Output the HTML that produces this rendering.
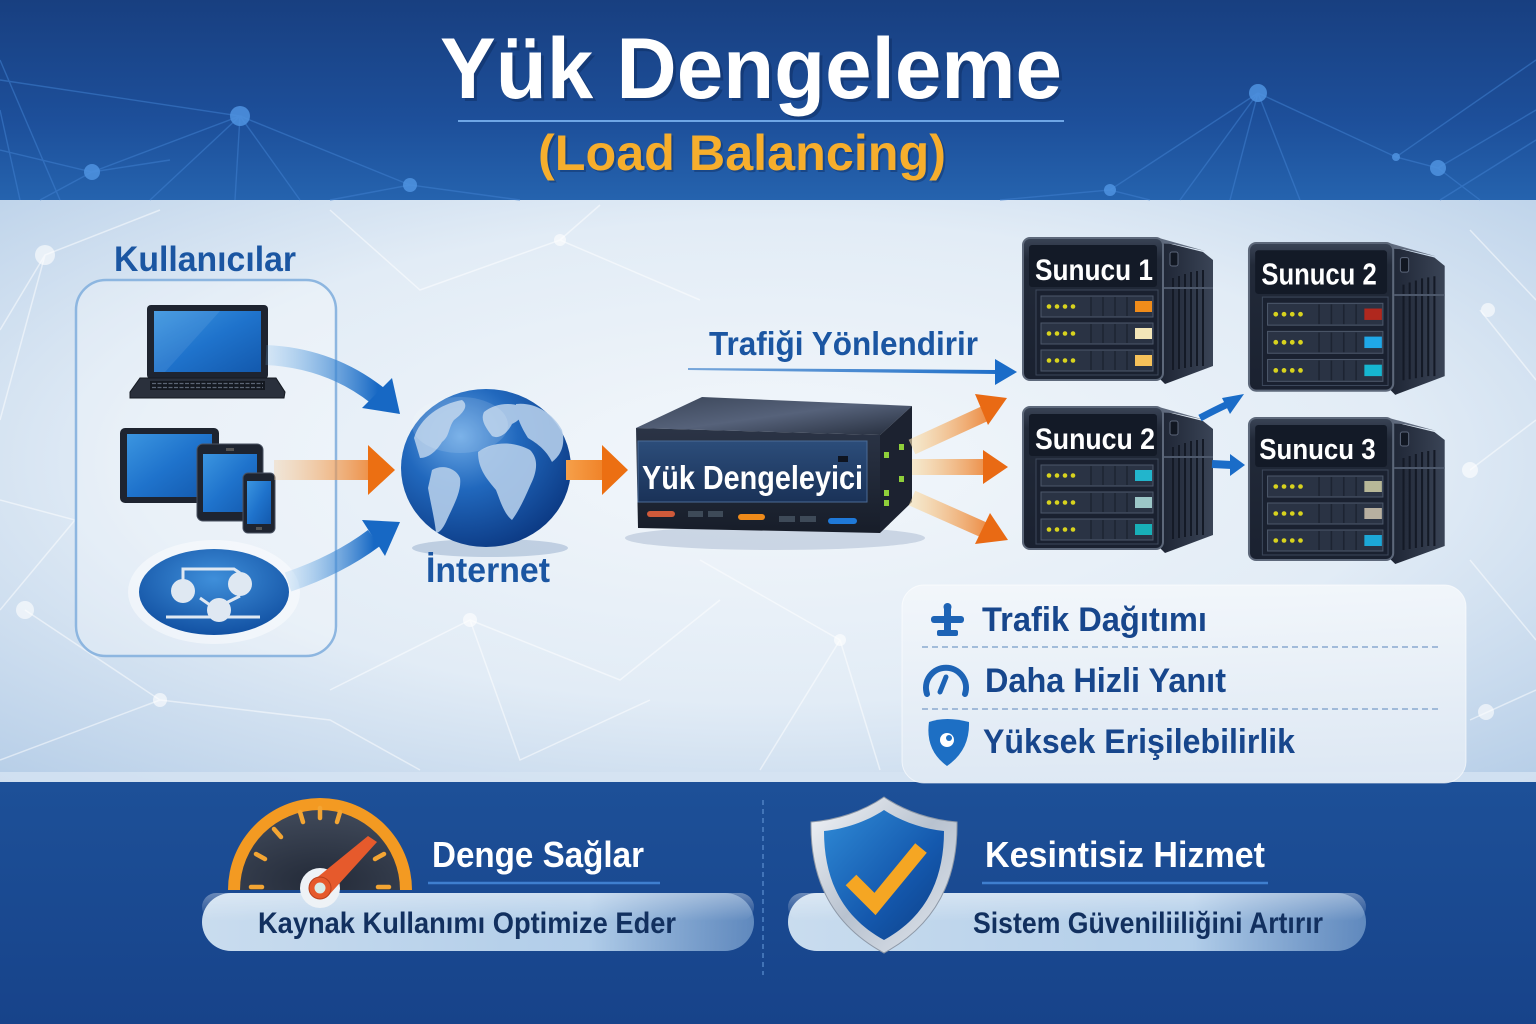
<!DOCTYPE html>
<html><head><meta charset="utf-8"><style>
html,body{margin:0;padding:0;background:#1b4a92;}
svg{display:block;}
text{font-family:"Liberation Sans","DejaVu Sans",sans-serif;font-weight:bold;}
</style></head><body>
<svg width="1536" height="1024" viewBox="0 0 1536 1024" xmlns="http://www.w3.org/2000/svg">
<defs>
<linearGradient id="topBg" x1="0" y1="0" x2="0" y2="1">
<stop offset="0" stop-color="#183f80"/><stop offset="0.6" stop-color="#1d4f9a"/><stop offset="1" stop-color="#2563ae"/>
</linearGradient>
<radialGradient id="midBg" cx="0.5" cy="0.45" r="0.75">
<stop offset="0" stop-color="#f3f7fb"/><stop offset="0.55" stop-color="#e2ecf6"/><stop offset="1" stop-color="#b5cde7"/>
</radialGradient>
<linearGradient id="botBg" x1="0" y1="0" x2="0" y2="1">
<stop offset="0" stop-color="#1d5098"/><stop offset="1" stop-color="#17438a"/>
</linearGradient>
<radialGradient id="globeG" cx="0.35" cy="0.3" r="0.75">
<stop offset="0" stop-color="#6aa8e6"/><stop offset="0.45" stop-color="#2168bd"/><stop offset="1" stop-color="#0c3a84"/>
</radialGradient>
<linearGradient id="screenG" x1="0" y1="0" x2="1" y2="1">
<stop offset="0" stop-color="#3b95e0"/><stop offset="0.5" stop-color="#1f73cc"/><stop offset="1" stop-color="#1359ad"/>
</linearGradient>
<radialGradient id="ellG" cx="0.5" cy="0.35" r="0.7">
<stop offset="0" stop-color="#3f8fda"/><stop offset="1" stop-color="#0f4d9f"/>
</radialGradient>
<linearGradient id="blueArr" x1="0" y1="0" x2="1" y2="0">
<stop offset="0" stop-color="#7ab8ea" stop-opacity="0.2"/><stop offset="1" stop-color="#1768c4"/>
</linearGradient>
<linearGradient id="orArr1" gradientUnits="userSpaceOnUse" x1="274" y1="0" x2="395" y2="0">
<stop offset="0" stop-color="#f7c58a" stop-opacity="0.3"/><stop offset="1" stop-color="#ec6f12"/>
</linearGradient>
<linearGradient id="orArr2" gradientUnits="userSpaceOnUse" x1="566" y1="0" x2="628" y2="0">
<stop offset="0" stop-color="#f6a04a"/><stop offset="1" stop-color="#ec6f12"/>
</linearGradient>
<linearGradient id="orArr3" gradientUnits="userSpaceOnUse" x1="912" y1="0" x2="1008" y2="0">
<stop offset="0" stop-color="#f9e1b0" stop-opacity="0.6"/><stop offset="1" stop-color="#e96a14"/>
</linearGradient>
<linearGradient id="trafG" gradientUnits="userSpaceOnUse" x1="688" y1="0" x2="1017" y2="0">
<stop offset="0" stop-color="#2a74c6" stop-opacity="0.6"/><stop offset="1" stop-color="#1a6cc8"/>
</linearGradient>
<linearGradient id="lbTop" x1="0" y1="0" x2="1" y2="1">
<stop offset="0" stop-color="#3a4558"/><stop offset="0.5" stop-color="#56627a"/><stop offset="1" stop-color="#252d3c"/>
</linearGradient>
<linearGradient id="lbFront" x1="0" y1="0" x2="0" y2="1">
<stop offset="0" stop-color="#2b3446"/><stop offset="1" stop-color="#171d29"/>
</linearGradient>
<linearGradient id="lbPanel" x1="0" y1="0" x2="0" y2="1">
<stop offset="0" stop-color="#2c4d7a"/><stop offset="1" stop-color="#1a3258"/>
</linearGradient>
<linearGradient id="sideG" x1="0" y1="0" x2="1" y2="0">
<stop offset="0" stop-color="#1d2433"/><stop offset="1" stop-color="#3a4456"/>
</linearGradient>
<linearGradient id="frontG" x1="0" y1="0" x2="0" y2="1">
<stop offset="0" stop-color="#3a4456"/><stop offset="0.15" stop-color="#222a39"/><stop offset="1" stop-color="#1a2130"/>
</linearGradient>
<linearGradient id="pillG" x1="0" y1="0" x2="1" y2="0">
<stop offset="0" stop-color="#c9dcee"/><stop offset="0.7" stop-color="#b1cde9"/><stop offset="1" stop-color="#8fb4dc" stop-opacity="0.6"/>
</linearGradient>
<linearGradient id="pillG2" x1="0" y1="0" x2="0" y2="1">
<stop offset="0" stop-color="#ffffff" stop-opacity="0.35"/><stop offset="1" stop-color="#ffffff" stop-opacity="0"/>
</linearGradient>
<radialGradient id="gaugeG" cx="0.5" cy="0.9" r="0.8">
<stop offset="0" stop-color="#232a38"/><stop offset="1" stop-color="#3d4656"/>
</radialGradient>
<linearGradient id="shieldOut" x1="0" y1="0" x2="1" y2="1">
<stop offset="0" stop-color="#f4f6f9"/><stop offset="0.5" stop-color="#b8c2cf"/><stop offset="1" stop-color="#e2e7ee"/>
</linearGradient>
<linearGradient id="shieldIn" x1="0" y1="0" x2="1" y2="1">
<stop offset="0" stop-color="#2f8ad6"/><stop offset="0.6" stop-color="#1458ad"/><stop offset="1" stop-color="#0d3f86"/>
</linearGradient>
<linearGradient id="boxG" x1="0" y1="0" x2="0" y2="1">
<stop offset="0" stop-color="#f3f7fb" stop-opacity="0.92"/><stop offset="1" stop-color="#dfe9f4" stop-opacity="0.92"/>
</linearGradient>

<symbol id="srv" overflow="visible">
<path d="M136,3 L180,14 L190,22 L190,128 L142,146 L136,140 Z" fill="url(#sideG)"/>
<path d="M150,40 V132 M156,38 V131 M162,36 V130 M168,34 V129 M174,33 V128 M180,32 V128" stroke="#141a26" stroke-width="2"/>
<path d="M141,50 H190" stroke="#4d586b" stroke-width="2"/>
<rect x="147" y="14" width="8" height="14" rx="2" fill="#111722" stroke="#5a6478"/>
<path d="M5,0 L136,0 L182,13 L150,6 Z" fill="#606b7e"/>
<rect x="0" y="0" width="140" height="142" rx="7" fill="url(#frontG)" stroke="#5d687a" stroke-width="2"/>
<rect x="6" y="7" width="128" height="42" rx="3" fill="#131a27"/>
<rect x="13" y="52" width="122" height="85" fill="#1a2130" stroke="#3c475a"/>
<g>
<rect x="18" y="58" width="112" height="21" fill="#2a3344" stroke="#4c576a"/>
<rect x="18" y="85" width="112" height="21" fill="#2a3344" stroke="#4c576a"/>
<rect x="18" y="112" width="112" height="21" fill="#2a3344" stroke="#4c576a"/>
<path d="M68,59 V78 M80,59 V78 M92,59 V78 M104,59 V78 M68,86 V105 M80,86 V105 M92,86 V105 M104,86 V105 M68,113 V132 M80,113 V132 M92,113 V132 M104,113 V132" stroke="#1d2432" stroke-width="1.5"/>
<g fill="#d8d31e">
<circle cx="26" cy="68.5" r="2.3"/><circle cx="34" cy="68.5" r="2.3"/><circle cx="42" cy="68.5" r="2.3"/><circle cx="50" cy="68.5" r="2.3"/>
<circle cx="26" cy="95.5" r="2.3"/><circle cx="34" cy="95.5" r="2.3"/><circle cx="42" cy="95.5" r="2.3"/><circle cx="50" cy="95.5" r="2.3"/>
<circle cx="26" cy="122.5" r="2.3"/><circle cx="34" cy="122.5" r="2.3"/><circle cx="42" cy="122.5" r="2.3"/><circle cx="50" cy="122.5" r="2.3"/>
</g>
</g>
</symbol>
</defs>

<!-- backgrounds -->
<rect x="0" y="0" width="1536" height="200" fill="url(#topBg)"/>
<rect x="0" y="200" width="1536" height="582" fill="url(#midBg)"/>
<rect x="0" y="772" width="1536" height="10" fill="#d6e4f2" opacity="0.8"/>
<rect x="0" y="782" width="1536" height="242" fill="url(#botBg)"/>

<!-- top network -->
<g stroke="#3f7fcf" stroke-width="1.4" fill="none" opacity="0.55">
<path d="M0,80 L240,116 L92,172 L0,150"/>
<path d="M240,116 L410,185 L520,200"/>
<path d="M240,116 L150,200 M240,116 L300,200 M240,116 L235,200 M92,172 L40,200 M92,172 L170,160"/>
<path d="M0,60 L60,200 M0,110 L20,200"/>
<path d="M1258,93 L1180,200 M1258,93 L1230,200 M1258,93 L1300,200 M1258,93 L1396,157 L1438,168 L1536,110"/>
<path d="M1438,168 L1480,200 M1396,157 L1536,60 M1536,140 L1440,200 M1258,93 L1110,190 L1000,200"/>
<path d="M410,185 L330,200 M1110,190 L1150,200"/>
</g>
<g fill="#4f93e0" opacity="0.85">
<circle cx="240" cy="116" r="10"/><circle cx="92" cy="172" r="8"/><circle cx="410" cy="185" r="7"/>
<circle cx="1258" cy="93" r="9"/><circle cx="1438" cy="168" r="8"/><circle cx="1396" cy="157" r="4"/><circle cx="1110" cy="190" r="6"/>
</g>

<!-- mid network faint -->
<g stroke="#ffffff" stroke-width="1.5" fill="none" opacity="0.5">
<path d="M0,330 L45,255 L160,210 M45,255 L0,420 M0,500 L75,520 L0,610 M25,610 L160,700 L0,760"/>
<path d="M330,210 L420,290 L560,240 L700,300 M560,240 L600,205"/>
<path d="M330,690 L470,620 L620,680 L720,600 M470,620 L520,760 L650,700 M160,700 L330,720 L420,770"/>
<path d="M1470,230 L1536,300 M1480,310 L1536,380 M1470,470 L1536,420 M1470,560 L1536,640 M1470,720 L1536,690"/>
<path d="M700,560 L840,640 L880,770 M840,640 L760,770"/>
</g>
<g fill="#ffffff" opacity="0.6">
<circle cx="45" cy="255" r="10"/><circle cx="25" cy="610" r="9"/><circle cx="160" cy="700" r="7"/><circle cx="470" cy="620" r="7"/><circle cx="560" cy="240" r="6"/><circle cx="1488" cy="310" r="7"/><circle cx="1470" cy="470" r="8"/><circle cx="1486" cy="712" r="8"/><circle cx="840" cy="640" r="6"/>
</g>

<!-- Title -->
<text x="443" y="101" font-size="86" fill="#0c2a5c" opacity="0.45" textLength="622" lengthAdjust="spacingAndGlyphs">Yük Dengeleme</text>
<text x="440" y="98" font-size="86" fill="#ffffff" textLength="622" lengthAdjust="spacingAndGlyphs">Yük Dengeleme</text>
<line x1="458" y1="121" x2="1064" y2="121" stroke="#6fa6e6" stroke-width="2"/>
<text x="540" y="172" font-size="50" fill="#0c2a5c" opacity="0.4" textLength="408" lengthAdjust="spacingAndGlyphs">(Load Balancing)</text>
<text x="538" y="170" font-size="50" fill="#f6ae2d" textLength="408" lengthAdjust="spacingAndGlyphs">(Load Balancing)</text>

<!-- Users panel -->
<text x="114" y="271" font-size="35" fill="#1b56a2" textLength="182" lengthAdjust="spacingAndGlyphs">Kullanıcılar</text>
<rect x="76" y="280" width="260" height="376" rx="30" fill="#ffffff" fill-opacity="0.25" stroke="#8db6e0" stroke-width="2.5"/>

<!-- laptop -->
<rect x="147" y="305" width="121" height="74" rx="4" fill="#1e2430"/>
<rect x="154" y="311" width="107" height="61" fill="url(#screenG)"/>
<path d="M154,311 L220,311 L165,372 L154,372 Z" fill="#ffffff" opacity="0.08"/>
<path d="M140,378 L276,378 L285,392 L284,398 L130,398 L130,392 Z" fill="#2a303c" stroke="#151a22"/>
<rect x="150" y="381" width="115" height="9" fill="#141820"/>
<path d="M152,383.5 H263 M152,387.5 H263" stroke="#5c6575" stroke-width="1.2" stroke-dasharray="4 1.5"/>

<!-- tablet 1 -->
<rect x="120" y="428" width="99" height="75" rx="5" fill="#1e2430"/>
<rect x="127" y="434" width="85" height="63" fill="url(#screenG)"/>
<!-- tablet 2 -->
<rect x="197" y="444" width="66" height="77" rx="6" fill="#1e2430" stroke="#4a5262"/>
<rect x="203" y="454" width="54" height="58" fill="url(#screenG)"/>
<rect x="226" y="448" width="8" height="3" fill="#555"/>
<!-- phone -->
<rect x="243" y="473" width="32" height="60" rx="5" fill="#1e2430" stroke="#4a5262"/>
<rect x="247" y="481" width="24" height="43" fill="url(#screenG)"/>
<rect x="256" y="527" width="6" height="3" fill="#555"/>

<!-- network ellipse -->
<ellipse cx="214" cy="592" rx="86" ry="52" fill="#ffffff" opacity="0.45"/>
<ellipse cx="214" cy="592" rx="75" ry="43" fill="url(#ellG)"/>
<path d="M183,580 L183,569 L234,569 L240,573 M240,596 L222,605 M200,598 L210,605 M219,610 L219,617 M166,617 H260" stroke="#dfe8f2" stroke-width="3" fill="none"/>
<circle cx="183" cy="591" r="12" fill="#dfe8f2"/>
<circle cx="240" cy="584" r="12" fill="#dfe8f2"/>
<circle cx="219" cy="610" r="12" fill="#dfe8f2"/>

<!-- arrows users->internet -->
<path d="M266,355 Q330,358 378,396" stroke="url(#blueArr)" stroke-width="20" fill="none"/>
<polygon points="400,414 362,408 392,378" fill="#1768c4"/>
<rect x="274" y="460" width="98" height="20" fill="url(#orArr1)"/>
<polygon points="368,445 395,470 368,495" fill="#ec6f12"/>
<path d="M288,582 Q338,565 374,538" stroke="url(#blueArr)" stroke-width="20" fill="none"/>
<polygon points="400,522 385,556 362,520" fill="#1768c4"/>

<!-- globe -->
<ellipse cx="490" cy="548" rx="78" ry="9" fill="#6f8fb8" opacity="0.35"/>
<ellipse cx="486" cy="468" rx="85" ry="79" fill="url(#globeG)"/>
<g fill="#b3cdea" opacity="0.9">
<path d="M414,438 C420,418 440,404 462,400 C470,406 462,414 454,420 C448,428 450,436 442,442 C436,452 428,458 420,458 Z"/>
<path d="M432,470 C442,464 456,468 460,478 C462,492 452,508 446,522 C442,530 438,534 436,532 C434,516 430,500 428,488 Z"/>
<path d="M484,412 C494,404 508,402 520,406 C526,414 520,420 512,424 C508,432 500,440 492,436 C486,428 480,420 484,412 Z"/>
<path d="M478,452 C494,440 516,442 530,450 C540,460 536,474 530,486 C524,500 518,512 512,520 C504,514 500,500 496,490 C488,480 478,470 478,452 Z"/>
<path d="M516,404 C534,402 552,412 562,430 C566,446 560,456 552,462 C546,450 538,444 528,438 C522,428 516,418 516,404 Z"/>
</g>
<ellipse cx="460" cy="425" rx="48" ry="28" fill="#ffffff" opacity="0.12"/>

<text x="426" y="582" font-size="35" fill="#1b56a2" textLength="124" lengthAdjust="spacingAndGlyphs">İnternet</text>

<!-- globe -> LB arrow -->
<rect x="566" y="460" width="40" height="20" fill="url(#orArr2)"/>
<polygon points="602,445 628,470 602,495" fill="#ec6f12"/>

<!-- Trafiği Yönlendirir -->
<text x="709" y="355" font-size="33" fill="#1b56a2" textLength="269" lengthAdjust="spacingAndGlyphs">Trafiği Yönlendirir</text>
<path d="M688,368 L996,370 L996,374 L688,370 Z" fill="url(#trafG)"/>
<polygon points="995,359 1017,372 995,385" fill="#1a6cc8"/>

<!-- Load balancer -->
<ellipse cx="775" cy="538" rx="150" ry="12" fill="#7b93b3" opacity="0.3"/>
<polygon points="636,428 702,397 912,406 880,435" fill="url(#lbTop)"/>
<polygon points="880,435 912,406 912,502 880,533" fill="#1c2230"/>
<polygon points="636,428 880,435 880,533 638,528" fill="url(#lbFront)"/>
<rect x="638" y="441" width="229" height="61" fill="url(#lbPanel)" stroke="#4a6a96"/>
<rect x="838" y="456" width="10" height="6" fill="#0e1420"/>
<text x="642" y="489" font-size="33" fill="#ffffff" textLength="221" lengthAdjust="spacingAndGlyphs">Yük Dengeleyici</text>
<rect x="647" y="511" width="28" height="6" rx="3" fill="#d05a3a"/>
<rect x="688" y="511" width="15" height="6" fill="#3e4a58"/><rect x="708" y="511" width="15" height="6" fill="#3e4a58"/>
<rect x="738" y="514" width="27" height="6" rx="3" fill="#ee8a1a"/>
<rect x="779" y="516" width="16" height="6" fill="#3e4a58"/><rect x="800" y="516" width="16" height="6" fill="#3e4a58"/>
<rect x="828" y="518" width="29" height="6" rx="3" fill="#1f79d8"/>
<g fill="#8fcf3a">
<rect x="884" y="452" width="5" height="6"/><rect x="899" y="444" width="5" height="6"/>
<rect x="884" y="490" width="5" height="6"/><rect x="884" y="500" width="5" height="6"/><rect x="899" y="476" width="5" height="6"/>
</g>

<!-- LB -> servers arrows -->
<path d="M912,447 L984,414" stroke="url(#orArr3)" stroke-width="16" fill="none"/>
<polygon points="1007,398 988,425 975,394" fill="#e96a14"/>
<rect x="912" y="459" width="73" height="16" fill="url(#orArr3)"/>
<polygon points="983,450 1008,467 983,484" fill="#e96a14"/>
<path d="M912,498 L984,530" stroke="url(#orArr3)" stroke-width="16" fill="none"/>
<polygon points="1008,540 975,544 990,513" fill="#e96a14"/>

<!-- servers -->
<g transform="translate(1023,238)">
<use href="#srv"/>
<rect x="112" y="63" width="17" height="11" fill="#f08c1a"/>
<rect x="112" y="90" width="17" height="11" fill="#f3e6b8"/>
<rect x="112" y="117" width="17" height="11" fill="#f7c25a"/>
<text x="12" y="42" font-size="30" fill="#ffffff" textLength="118" lengthAdjust="spacingAndGlyphs">Sunucu 1</text>
</g>
<g transform="translate(1249,243) scale(1.03,1.04)">
<use href="#srv"/>
<rect x="112" y="63" width="17" height="11" fill="#b0281e"/>
<rect x="112" y="90" width="17" height="11" fill="#1fa8e8"/>
<rect x="112" y="117" width="17" height="11" fill="#16b6d0"/>
<text x="12" y="40" font-size="29" fill="#ffffff" textLength="112" lengthAdjust="spacingAndGlyphs">Sunucu 2</text>
</g>
<g transform="translate(1023,407)">
<use href="#srv"/>
<rect x="112" y="63" width="17" height="11" fill="#22b5cc"/>
<rect x="112" y="90" width="17" height="11" fill="#9cc7c8"/>
<rect x="112" y="117" width="17" height="11" fill="#18b0b8"/>
<text x="12" y="42" font-size="30" fill="#ffffff" textLength="120" lengthAdjust="spacingAndGlyphs">Sunucu 2</text>
</g>
<g transform="translate(1249,418) scale(1.03,1.0)">
<use href="#srv"/>
<rect x="112" y="63" width="17" height="11" fill="#b8b898"/>
<rect x="112" y="90" width="17" height="11" fill="#b8b0a0"/>
<rect x="112" y="117" width="17" height="11" fill="#1ca8d8"/>
<text x="10" y="41" font-size="29" fill="#ffffff" textLength="113" lengthAdjust="spacingAndGlyphs">Sunucu 3</text>
</g>

<!-- small blue arrows between servers -->
<path d="M1200,418 Q1215,410 1228,404" stroke="#1a6cc8" stroke-width="7" fill="none"/>
<polygon points="1244,394 1230,414 1222,398" fill="#1a6cc8"/>
<path d="M1212,464 L1232,465" stroke="#1a6cc8" stroke-width="8" fill="none"/>
<polygon points="1230,454 1245,465 1230,476" fill="#1a6cc8"/>

<!-- feature box -->
<rect x="902" y="585" width="564" height="198" rx="22" fill="url(#boxG)" stroke="#ffffff" stroke-opacity="0.6"/>
<!-- icon 1 -->
<g fill="#1d63b5">
<rect x="944" y="606" width="7" height="30" rx="2"/>
<rect x="931" y="616" width="33" height="7" rx="3"/>
<rect x="937" y="630" width="21" height="6" rx="2"/>
<circle cx="947.5" cy="607" r="4"/>
</g>
<text x="982" y="631" font-size="34" fill="#17468c" textLength="225" lengthAdjust="spacingAndGlyphs">Trafik Dağıtımı</text>
<line x1="922" y1="647" x2="1440" y2="647" stroke="#8aa9cf" stroke-width="1.5" stroke-dasharray="6 4"/>
<!-- icon 2 gauge -->
<path d="M927,694 A20,20 0 1,1 965,694" stroke="#1d63b5" stroke-width="6" fill="none" stroke-linecap="round"/>
<path d="M946,677 L940,692" stroke="#1d63b5" stroke-width="5" stroke-linecap="round"/>
<text x="985" y="692" font-size="34" fill="#17468c" textLength="241" lengthAdjust="spacingAndGlyphs">Daha Hizli Yanıt</text>
<line x1="922" y1="709" x2="1440" y2="709" stroke="#8aa9cf" stroke-width="1.5" stroke-dasharray="6 4"/>
<!-- icon 3 shield -->
<path d="M929,722 Q946,716 969,722 Q970,750 947,766 Q925,750 929,722 Z" fill="#1d6fc4"/>
<circle cx="947" cy="740" r="7" fill="#ffffff"/><circle cx="949" cy="738" r="3" fill="#1d6fc4"/>
<text x="983" y="753" font-size="34" fill="#17468c" textLength="312" lengthAdjust="spacingAndGlyphs">Yüksek Erişilebilirlik</text>

<!-- bottom divider -->
<line x1="763" y1="800" x2="763" y2="975" stroke="#4f82c4" stroke-width="1.5" stroke-dasharray="5 4"/>

<!-- gauge -->
<path d="M228,890 A92,92 0 0,1 412,890 Z" fill="#f39a22"/>
<path d="M240,890 A80,80 0 0,1 400,890 Z" fill="url(#gaugeG)"/>
<g stroke="#f3a533" stroke-width="4.5" stroke-linecap="round">
<line x1="251" y1="887" x2="262" y2="887"/>
<line x1="256" y1="854" x2="265" y2="859"/>
<line x1="274" y1="829" x2="281" y2="837"/>
<line x1="300" y1="812" x2="303" y2="822"/>
<line x1="320" y1="808" x2="320" y2="818"/>
<line x1="340" y1="812" x2="337" y2="822"/>
<line x1="384" y1="854" x2="375" y2="859"/>
<line x1="389" y1="887" x2="378" y2="887"/>
</g>
<!-- pill 1 -->
<rect x="202" y="893" width="552" height="58" rx="29" fill="url(#pillG)"/>
<rect x="202" y="893" width="552" height="28" rx="14" fill="url(#pillG2)"/>
<circle cx="320" cy="888" r="20" fill="#eef2f6"/>
<polygon points="314,880 368,836 377,842 328,896" fill="#e65a2c"/>
<circle cx="320" cy="888" r="11" fill="#e65a2c" stroke="#b8401c"/>
<circle cx="320" cy="888" r="5.5" fill="#d8ece8"/>
<text x="432" y="867" font-size="36" fill="#ffffff" textLength="212" lengthAdjust="spacingAndGlyphs">Denge Sağlar</text>
<line x1="428" y1="883" x2="660" y2="883" stroke="#3f7fcf" stroke-width="2.5"/>
<text x="258" y="933" font-size="30" fill="#12305f" textLength="418" lengthAdjust="spacingAndGlyphs">Kaynak Kullanımı Optimize Eder</text>

<!-- pill 2 -->
<rect x="788" y="893" width="578" height="58" rx="29" fill="url(#pillG)"/>
<rect x="788" y="893" width="578" height="28" rx="14" fill="url(#pillG2)"/>
<!-- shield -->
<path d="M884,797 C906,812 932,820 957,822 C958,882 934,926 884,953 C834,926 810,882 811,822 C836,820 862,812 884,797 Z" fill="url(#shieldOut)" stroke="#8e99a8"/>
<path d="M884,810 C902,822 924,829 944,831 C944,882 924,918 884,940 C844,918 824,882 824,831 C844,829 866,822 884,810 Z" fill="url(#shieldIn)"/>
<path d="M851,880 L875,904 L921,848" stroke="#f5a623" stroke-width="15" fill="none" stroke-linejoin="miter"/>
<text x="985" y="867" font-size="36" fill="#ffffff" textLength="280" lengthAdjust="spacingAndGlyphs">Kesintisiz Hizmet</text>
<line x1="982" y1="883" x2="1268" y2="883" stroke="#3f7fcf" stroke-width="2.5"/>
<text x="973" y="933" font-size="30" fill="#12305f" textLength="350" lengthAdjust="spacingAndGlyphs">Sistem Güveniliiliğini Artırır</text>
</svg>
</body></html>
